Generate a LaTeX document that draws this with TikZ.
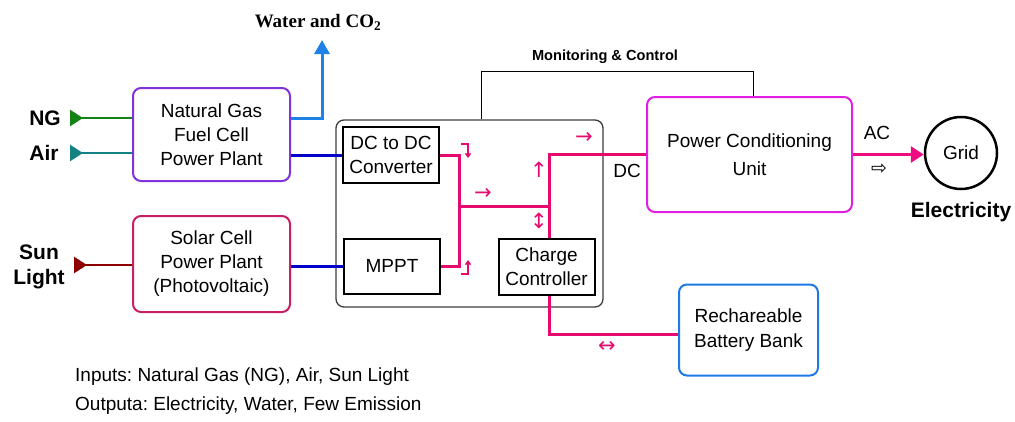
\documentclass[tikz,border=0pt]{standalone}
\usepackage{fontspec}
\setmainfont{Liberation Sans}
\newfontfamily\serifbold{Liberation Serif}
\newfontfamily\arrowfont{DejaVu Sans}
\usetikzlibrary{arrows.meta}
\definecolor{ngc}{RGB}{130,50,220}
\definecolor{solarc}{RGB}{200,30,100}
\definecolor{pcuc}{RGB}{225,30,225}
\definecolor{battc}{RGB}{30,120,230}
\definecolor{dblue}{RGB}{0,0,200}
\definecolor{waterc}{RGB}{30,130,230}
\definecolor{ngline}{RGB}{20,130,20}
\definecolor{airline}{RGB}{20,130,130}
\definecolor{sunline}{RGB}{140,0,0}
\definecolor{pinkc}{RGB}{230,10,110}
\definecolor{acc}{RGB}{238,10,130}
\definecolor{frame}{RGB}{60,60,60}
\frenchspacing
\begin{document}
\begin{tikzpicture}[x=1pt,y=-1pt,
  rbox/.style={draw, line width=2pt, rounded corners=8pt, align=center, inner sep=0pt,
    font=\fontsize{19}{24}\selectfont},
  sbox/.style={draw=black, line width=2pt, align=center, inner sep=0pt,
    font=\fontsize{19}{24}\selectfont},
  inlbl/.style={font=\fontsize{21}{25}\selectfont\bfseries, align=center, inner sep=0pt},
  txt/.style={font=\fontsize{19}{24}\selectfont, inner sep=0pt},
  glyph/.style={font=\arrowfont\fontsize{21}{21}\selectfont, text=pinkc, inner sep=0pt},
  pinkline/.style={draw=pinkc, line width=3pt},
  blueline/.style={draw=dblue, line width=3pt},
  intip/.style={{Triangle[reversed,length=13pt,width=16pt]}-},
  hook/.style={draw=pinkc, line width=1.4pt, -{Straight Barb[length=3.5pt,width=5pt]}}
]
\useasboundingbox (0,0) rectangle (1015,421);

% boxes
\node[rbox, draw=ngc, minimum width=157pt, minimum height=93pt] (ngfc) at (211.5,134.5) {Natural Gas\\Fuel Cell\\Power Plant};
\node[rbox, draw=solarc, minimum width=157pt, minimum height=96pt] (solar) at (211.5,264) {Solar Cell\\Power Plant\\(Photovoltaic)};
\node[draw=frame, line width=1.3pt, rounded corners=8pt, minimum width=267pt, minimum height=187pt, inner sep=0pt] (big) at (469.5,213.5) {};
\node[sbox, minimum width=96pt, minimum height=56pt] (dcdc) at (391,155) {DC to DC\\Converter};
\node[sbox, minimum width=96pt, minimum height=55pt] (mppt) at (392,266) {MPPT};
\node[sbox, minimum width=96pt, minimum height=56pt] (cc) at (546.5,267) {Charge\\Controller};
\node[rbox, draw=pcuc, minimum width=205pt, minimum height=115pt, font=\fontsize{19}{28}\selectfont] (pcu) at (749.5,154.5) {Power Conditioning\\Unit};
\node[rbox, draw=battc, minimum width=139pt, minimum height=91pt, font=\fontsize{19}{25}\selectfont] (batt) at (748.5,330) {Rechareable\\Battery Bank};
\node[draw=black, circle, line width=2.5pt, minimum size=72pt, inner sep=0pt, font=\fontsize{19}{24}\selectfont] (grid) at (961,153) {Grid};

% labels
\node[inlbl] (ng) at (45,118) {NG};
\node[inlbl] (air) at (44,153) {Air};
\node[inlbl] (sun) at (39,267) {Sun\\Light};
\node[inlbl] (elec) at (961,212) {Electricity};
\node[font=\serifbold\bfseries\fontsize{19}{22}\selectfont, inner sep=0pt] (water) at (318,22) {Water and CO\textsubscript{2}};
\node[font=\fontsize{14.6}{17}\selectfont\bfseries, inner sep=0pt] (mon) at (605,57) {Monitoring \& Control};
\node[txt] (dc) at (627,171) {DC};
\node[txt] (ac) at (877,133) {AC};
\node[font=\fontsize{19}{29}\selectfont, anchor=north west, align=left, inner sep=0pt] (notes) at (75,368) {Inputs: Natural Gas (NG), Air, Sun Light\\Outputa: Electricity, Water, Few Emission};

% direction glyphs
\node[glyph] (g1) at (483,194) {→};
\node[glyph] (g2) at (584,138) {→};
\node[glyph] (g3) at (539,170) {↑};
\node[glyph] (g4) at (539,221) {↕};
\node[glyph] (g5) at (607,347) {↔};
\node[glyph, text=black, font=\arrowfont\fontsize{19}{19}\selectfont] (g6) at (879,169) {⇨};

% input lines
\coordinate (ngin) at (70,118);
\coordinate (airin) at (70,153);
\coordinate (sunin) at (74,265);
\draw[draw=ngline, line width=2.5pt, fill=ngline, intip] (ngin) -- (ngin -| ngfc.west);
\draw[draw=airline, line width=2.5pt, fill=airline, intip] (airin) -- (airin -| ngfc.west);
\draw[draw=sunline, line width=2.5pt, fill=sunline, intip] (sunin) -- (sunin -| solar.west);

% water output
\coordinate (w1) at (322,118);
\coordinate (wtop) at (322,40);
\draw[draw=waterc, line width=3pt, -{Triangle[length=14pt,width=15pt]}] (w1 -| ngfc.east) -- (w1) -- (wtop);

% blue lines
\draw[blueline] (ngfc.east |- dcdc) -- (dcdc.west);
\draw[blueline] (solar.east |- mppt) -- (mppt.west);

% pink network
\coordinate (j1) at (459,206);
\coordinate (j2) at (549,206);
\coordinate (j3) at (549,334);
\draw[pinkline] (dcdc.east) -| (j1) |- (mppt.east);
\draw[pinkline] (j1) -- (j2);
\draw[pinkline] (cc.north -| j2) -- (j2) |- (pcu.west);
\draw[pinkline] (cc.south -| j3) -- (j3) -- (j3 -| batt.west);

% hooks
\coordinate (h1) at (461,144);
\coordinate (h2) at (461,274);
\draw[hook] (h1) -- ++(7,0) -- ++(0,14);
\draw[hook] (h2) -- ++(7,0) -- ++(0,-14);

% monitoring
\coordinate (m1) at (481,71);
\coordinate (m2) at (753,71);
\draw[black, line width=1pt] (big.north -| m1) -- (m1) -- (m2) -- (m2 |- pcu.north);

% AC to grid
\draw[draw=acc, line width=3pt, -{Triangle[length=13pt,width=16pt]}] (pcu.east) -- (pcu.east -| grid.west);
\end{tikzpicture}
\end{document}
